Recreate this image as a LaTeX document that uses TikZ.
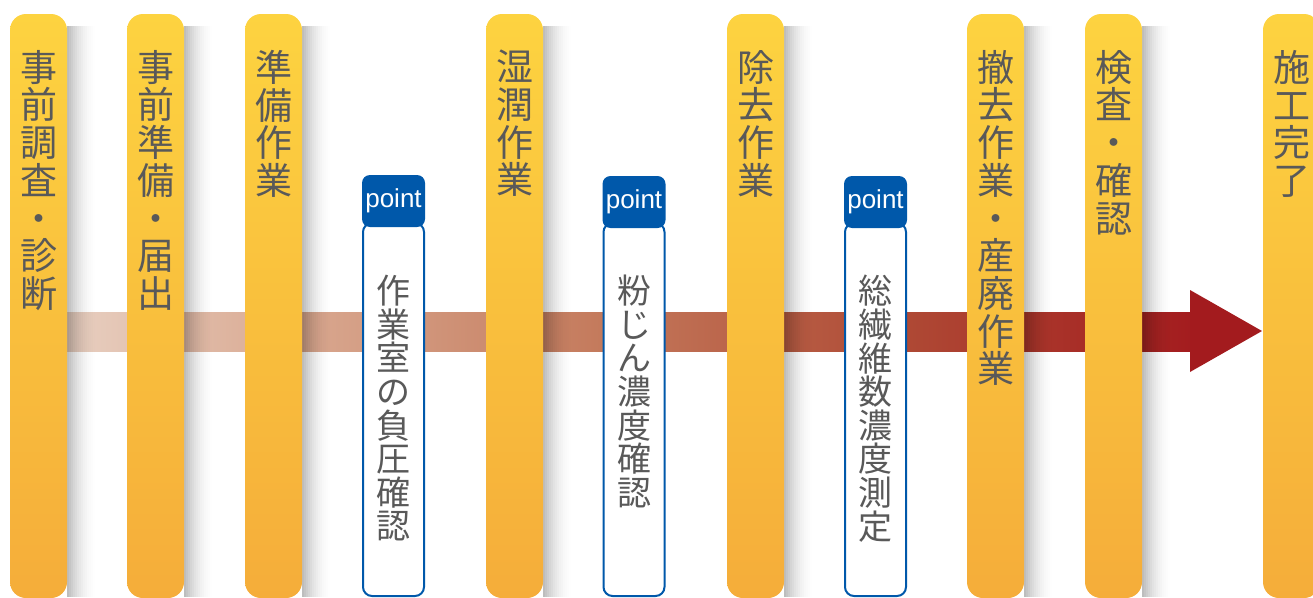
\documentclass[tikz,border=0pt]{standalone}
\usepackage{fontspec}
\newfontfamily\jp{Noto Sans CJK JP}
\newfontfamily\lat{Liberation Sans}
\definecolor{pilltop}{HTML}{FDD340}
\definecolor{pillbot}{HTML}{F5AD3A}
\definecolor{txtgray}{HTML}{595959}
\definecolor{ptblue}{HTML}{0058AA}
\definecolor{bandA}{HTML}{E8D0C2}
\definecolor{bandB}{HTML}{D9A890}
\definecolor{bandC}{HTML}{C47A5C}
\definecolor{bandD}{HTML}{AF4A35}
\definecolor{bandE}{HTML}{A31B1E}
\begin{document}
\begin{tikzpicture}[x=1pt,y=-1pt,
  pillar/.style={rounded corners=16pt, top color=pilltop, bottom color=pillbot,
    minimum width=57pt, minimum height=584pt, inner sep=0pt, draw=none},
  vtext/.style={anchor=north, align=center, inner sep=0pt, text=txtgray,
    font=\jp\fontsize{37}{37.7}\selectfont},
  ptext/.style={anchor=north, align=center, inner sep=0pt, text=txtgray,
    font=\jp\fontsize{34}{33.6}\selectfont},
  pthead/.style={rounded corners=8pt, fill=ptblue, text=white, minimum width=63pt,
    minimum height=52pt, inner sep=0pt, font=\lat\fontsize{26}{26}\selectfont},
  ptbody/.style={rounded corners=9pt, fill=white, draw=ptblue, line width=2pt,
    minimum width=61pt, minimum height=373pt, inner sep=0pt}
]
\useasboundingbox (0,0) rectangle (1313,597);
% band
\shade[left color=bandA, right color=bandB] (60,312) rectangle (300.5,351);
\shade[left color=bandB, right color=bandC] (300,312) rectangle (600.5,351);
\shade[left color=bandC, right color=bandD] (600,312) rectangle (900.5,351);
\shade[left color=bandD, right color=bandE] (900,312) rectangle (1200,351);
\coordinate (headtop) at (1190,290);
\coordinate (headtip) at (1262,331);
\coordinate (headbot) at (1190,372);
\fill[bandE] (headtop) -- (headtip) -- (headbot) -- cycle;
% shadows (soft, drawn as thin strips of decreasing opacity)
\foreach \r in {67,184,302,543,784,1024,1142}{
  \foreach \i in {0,...,14}{
    \pgfmathsetmacro{\op}{0.26*(1-\i/15)^2}
    \fill[black, fill opacity=\op] (\r+2*\i,26) rectangle (\r+2*\i+2,597);
  }
}
% pillars
\node[pillar] (p1) at (38.5,306) {};
\node[pillar] (p2) at (155.5,306) {};
\node[pillar] (p3) at (273.5,306) {};
\node[pillar] (p4) at (514.5,306) {};
\node[pillar] (p5) at (755.5,306) {};
\node[pillar] (p6) at (995.5,306) {};
\node[pillar] (p7) at (1113.5,306) {};
\node[pillar] (p8) at (1291.5,306) {};
\node[vtext] (t1) at (38.5,50) {事\\前\\調\\査\\・\\診\\断};
\node[vtext] (t2) at (155.5,50) {事\\前\\準\\備\\・\\届\\出};
\node[vtext] (t3) at (273.5,50) {準\\備\\作\\業};
\node[vtext] (t4) at (514.5,50) {湿\\潤\\作\\業};
\node[vtext] (t5) at (755.5,50) {除\\去\\作\\業};
\node[vtext] (t6) at (995.5,50) {撤\\去\\作\\業\\・\\産\\廃\\作\\業};
\node[vtext] (t7) at (1113.5,50) {検\\査\\・\\確\\認};
\node[vtext] (t8) at (1291.5,50) {施\\工\\完\\了};
% point boxes
\node[ptbody] (b1) at (393.5,409.5) {};
\node[ptbody] (b2) at (634,409.5) {};
\node[ptbody] (b3) at (875.5,409.5) {};
\node[pthead] (h1) at (393.5,201) {point};
\node[pthead] (h2) at (634,202) {point};
\node[pthead] (h3) at (875.5,202) {point};
\node[ptext] (q1) at (393.5,275) {作\\業\\室\\の\\負\\圧\\確\\認};
\node[ptext] (q2) at (634,275) {粉\\じ\\ん\\濃\\度\\確\\認};
\node[ptext] (q3) at (875.5,275) {総\\繊\\維\\数\\濃\\度\\測\\定};
\end{tikzpicture}
\end{document}
